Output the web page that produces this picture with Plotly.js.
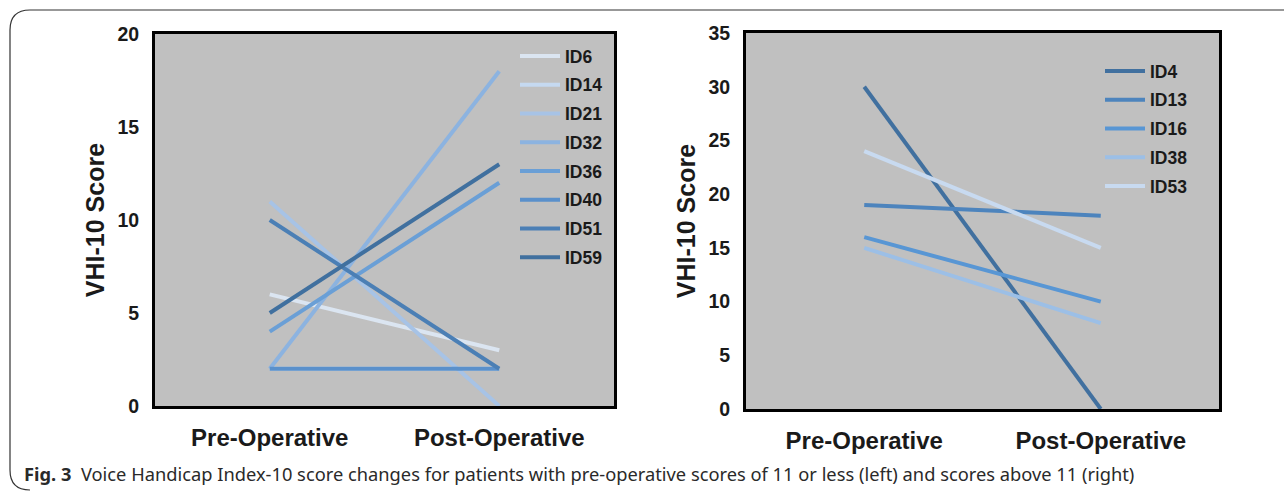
<!DOCTYPE html>
<html>
<head>
<meta charset="utf-8">
<script src="https://cdn.plot.ly/plotly-3.0.1.min.js"></script>
<style>html,body{margin:0;padding:0;background:#fff;}#chart{width:1284px;height:493px;}</style>
</head>
<body>
<div id="chart"></div>
<script>
// ---- data ----
const timepoints = ["Pre-Operative", "Post-Operative"];

const leftIds = ["ID6", "ID14", "ID21", "ID32", "ID36", "ID40", "ID51", "ID59"];
const leftPre = [6, 2, 11, 2, 4, 2, 10, 5];
const leftPost = [3, 2, 0, 18, 12, 2, 2, 13];
const leftColors = ["#dbe5f1", "#c5d9f0", "#a7c3e6", "#8cb3e0", "#6a9fd6", "#5a90cb", "#4b7fb5", "#40709f"];

const rightIds = ["ID4", "ID13", "ID16", "ID38", "ID53"];
const rightPre = [30, 19, 16, 15, 24];
const rightPost = [0, 18, 10, 8, 15];
const rightColors = ["#41709f", "#4d84bd", "#5896d4", "#9cbfe6", "#c8daf0"];

const leftTicks = [0, 5, 10, 15, 20];
const rightTicks = [0, 5, 10, 15, 20, 25, 30, 35];

const yTitle = "VHI-10 Score";
const caption = "<b>Fig. 3</b>  Voice Handicap Index-10 score changes for patients with pre-operative scores of 11 or less (left) and scores above 11 (right)";

// ---- traces ----
const traces = [];
leftIds.forEach((id, i) => {
  traces.push({
    type: "scatter", mode: "lines", name: id,
    x: timepoints, y: [leftPre[i], leftPost[i]],
    xaxis: "x", yaxis: "y", legend: "legend", legendgroup: "L" + i,
    line: {color: leftColors[i], width: 4}, hoverinfo: "name+y"
  });
});
rightIds.forEach((id, i) => {
  traces.push({
    type: "scatter", mode: "lines", name: id,
    x: timepoints, y: [rightPre[i], rightPost[i]],
    xaxis: "x2", yaxis: "y2", legend: "legend2", legendgroup: "R" + i,
    line: {color: rightColors[i], width: 4}, hoverinfo: "name+y"
  });
});

const W = 1284, H = 493;
const px = v => v / W, py = v => 1 - v / H;

const FAM = "Arial";
const tickFontY = {family: FAM, size: 19.5, color: "#1a1a1a", weight: "bold"};
const tickFontX = {family: FAM, size: 24, color: "#1a1a1a", weight: "bold"};
const titleFont = {family: FAM, size: 25, color: "#1a1a1a", weight: "bold"};
const legFont = {family: FAM, size: 17.5, color: "#1a1a1a", weight: "bold"};

function xAxis(domain) {
  return {
    domain: domain, type: "category", range: [-0.5, 1.5],
    showline: true, mirror: true, linecolor: "#000", linewidth: 3,
    showgrid: false, zeroline: false, ticks: "", ticklabelstandoff: 8,
    tickfont: tickFontX, fixedrange: true
  };
}
function yAxis(domain, range, ticks, anchor) {
  return {
    domain: domain, range: range, tickmode: "array", tickvals: ticks,
    ticktext: ticks.map(String), anchor: anchor,
    showline: true, mirror: true, linecolor: "#000", linewidth: 3,
    showgrid: false, zeroline: false, ticks: "", ticklabelstandoff: 9,
    tickfont: tickFontY, fixedrange: true,
    title: {text: yTitle, font: titleFont, standoff: 6}
  };
}

const layout = {
  width: W, height: H,
  margin: {l: 0, r: 0, t: 0, b: 0},
  paper_bgcolor: "#ffffff",
  plot_bgcolor: "#c0c0c0",
  showlegend: true,
  xaxis: xAxis([px(155), px(614)]),
  yaxis: yAxis([py(406), py(34)], [0, 20], leftTicks, "x"),
  xaxis2: Object.assign(xAxis([px(746), px(1219)]), {anchor: "y2"}),
  yaxis2: yAxis([py(409), py(33)], [0, 35], rightTicks, "x2"),
  legend: {
    x: px(515), y: py(38), xanchor: "left", yanchor: "top",
    bgcolor: "rgba(0,0,0,0)", font: legFont, tracegroupgap: 3, itemwidth: 40
  },
  legend2: {
    x: px(1100), y: py(53), xanchor: "left", yanchor: "top",
    bgcolor: "rgba(0,0,0,0)", font: legFont, tracegroupgap: 3, itemwidth: 40
  },
  shapes: [{
    type: "path", xref: "paper", yref: "paper", layer: "below",
    path: "M " + px(10) + "," + py(470) + " L " + px(10) + "," + py(30) +
      " Q " + px(10) + "," + py(10) + " " + px(30) + "," + py(10) +
      " L " + px(1300) + "," + py(10),
    line: {color: "#333", width: 1.2}
  }, {
    type: "path", xref: "paper", yref: "paper", layer: "below",
    path: "M " + px(10) + "," + py(470) +
      " Q " + px(10) + "," + py(490) + " " + px(30) + "," + py(490),
    line: {color: "#333", width: 1.2}
  }],
  annotations: [{
    xref: "paper", yref: "paper", x: px(22), y: py(473), xanchor: "left", yanchor: "middle",
    text: caption, showarrow: false,
    font: {family: "Noto Sans", size: 18.3, color: "#2a2a2a"}
  }]
};

Plotly.newPlot("chart", traces, layout, {displayModeBar: false, staticPlot: true});
</script>
</body>
</html>
